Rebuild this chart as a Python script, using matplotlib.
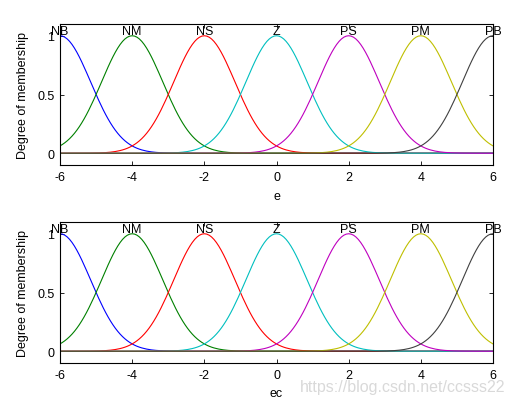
import numpy as np
import matplotlib
matplotlib.use("Agg")
import matplotlib.pyplot as plt

plt.rcParams['font.family'] = ['Liberation Sans', 'DejaVu Sans']
plt.rcParams['axes.unicode_minus'] = False

# fuzzy sets: gaussian membership functions
mf_names = ["NB", "NM", "NS", "Z", "PS", "PM", "PB"]
mf_centers = [-6, -4, -2, 0, 2, 4, 6]
mf_sigma = 0.8493
x_range = [-6, 6]
n_points = 181
var_names = ["e", "ec"]

# old MATLAB colour order
colors = [(0, 0, 1), (0, 0.5, 0), (1, 0, 0), (0, 0.75, 0.75),
          (0.75, 0, 0.75), (0.75, 0.75, 0), (0.25, 0.25, 0.25)]

fig = plt.figure(figsize=(5.15, 4.06), dpi=100)
fw, fh = 515, 406
boxes = [(60, 25, 493, 166), (60, 223, 493, 364)]

x = np.linspace(x_range[0], x_range[1], n_points)

for (l, t, r, b), vname in zip(boxes, var_names):
    ax = fig.add_axes([l / fw, 1 - b / fh, (r - l) / fw, (b - t) / fh])
    for name, c, col in zip(mf_names, mf_centers, colors):
        y = np.exp(-(x - c) ** 2 / (2 * mf_sigma ** 2))
        ax.plot(x, y, color=col, lw=0.8)
        ax.text(c, 0.99, name, ha='center', va='bottom', fontsize=9)
    ax.set_xlim(x_range)
    ax.set_ylim(-0.1, 1.1)
    ax.set_xticks([-6, -4, -2, 0, 2, 4, 6])
    ax.set_yticks([0, 0.5, 1])
    ax.set_yticklabels(["0", "0.5", "1"])
    ax.tick_params(direction='in', top=True, right=True, length=3,
                   labelsize=9, width=0.6, pad=4)
    for s in ax.spines.values():
        s.set_linewidth(0.8)
    ax.set_xlabel(vname, fontsize=9, labelpad=5)
    ax.set_ylabel("Degree of membership", fontsize=9, labelpad=6)

fig.text(505 / fw, 1 - 388 / fh, "https://blog.csdn.net/ccsss22",
         ha='right', va='center', fontsize=11.5, color=(0.85, 0.85, 0.85))

fig.savefig("out.png", dpi=100)
